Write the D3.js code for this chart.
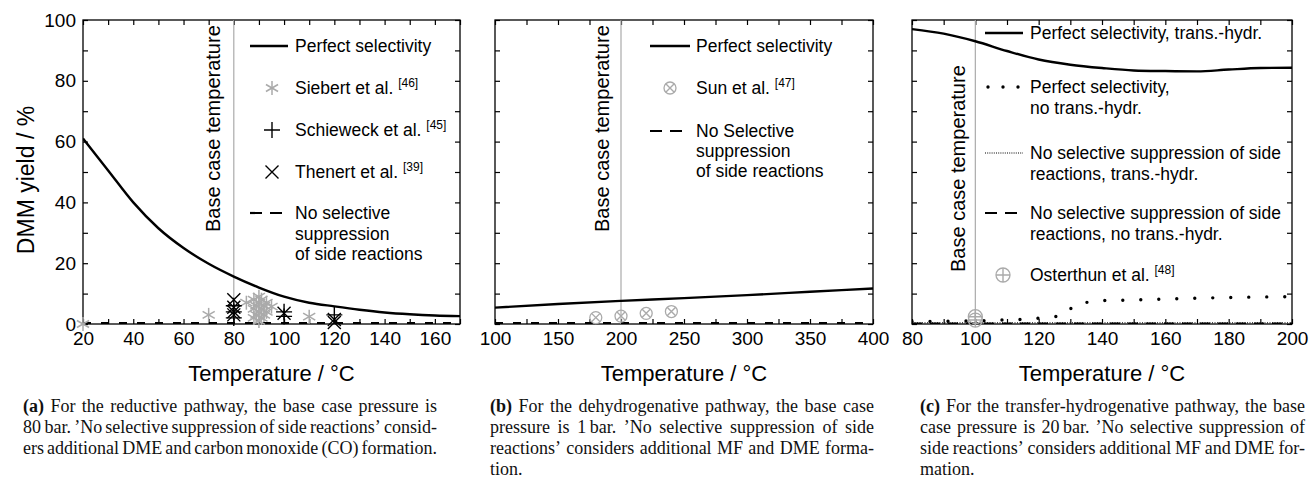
<!DOCTYPE html>
<html><head><meta charset="utf-8">
<script src="https://cdn.jsdelivr.net/npm/d3@7"></script>
<style>body{margin:0;background:#fff}svg{display:block}</style>
</head><body>
<svg id="chart" width="1311" height="488"></svg>
<script>
// ---------- DATA ----------
// Panel (a): reductive pathway
const aPerfectT = [20,30,40,50,60,70,80,90,100,110,120,130,140,150,160,170];
const aPerfectY = [61,50.5,40,31.5,25,19.8,15.6,12,9,7,5.8,4.7,3.8,3.2,2.8,2.6];
const aNoSelT = [20,170];
const aNoSelY = [0.3,0.3];
const siebertT = [20,70,85,88,88,88,89,89,90,90,90,90,91,91,91,92,92,93,93,95,110];
const siebertY = [0,3,7,2,5,8,3,6,1,4,7,9,2,5,8,3,6,4,7,5.7,2.4];
const schieweckT = [80,80,80,100,100,120];
const schieweckY = [2,4,6,2.5,4,3];
const thenertT = [80,80,80,80,100,120,120];
const thenertY = [8,5.5,4,3,3.5,0.5,1.5];
// Panel (b): dehydrogenative pathway
const bPerfectT = [100,150,200,250,300,350,400];
const bPerfectY = [5.4,6.6,7.6,8.5,9.5,10.6,11.7];
const bNoSelT = [100,400];
const bNoSelY = [0.3,0.3];
const sunT = [180,200,220,240];
const sunY = [2.1,2.6,3.5,4.1];
// Panel (c): transfer-hydrogenative pathway
const cPerfTransT = [80,90,100,110,120,130,140,150,160,170,180,190,200];
const cPerfTransY = [97,95.5,93,89.8,87,85.3,84.2,83.4,83.2,83.1,83.7,84.2,84.3];
const cPerfNoTransT = [80,90,100,104,108,115,121,127,129,131,137,140,150,160,170,180,190,200];
const cPerfNoTransY = [0.8,0.9,1.0,1.1,1.3,1.5,2.0,2.6,3.5,6.2,7.5,7.7,7.9,8.2,8.5,8.7,8.9,9.0];
const cNoSelTransT = [80,200];
const cNoSelTransY = [0.4,0.4];
const cNoSelNoTransT = [80,200];
const cNoSelNoTransY = [0.2,0.2];
const osterthunT = [100,100];
const osterthunY = [2.4,1.3];
// Axis / ticks
const yTicks = [0,10,20,30,40,50,60,70,80,90,100];
const yTickLabels = [0,20,40,60,80,100];
const aXTicks = [20,30,40,50,60,70,80,90,100,110,120,130,140,150,160,170];
const aXTickLabels = [20,40,60,80,100,120,140,160];
const bXTicks = [100,125,150,175,200,225,250,275,300,325,350,375,400];
const bXTickLabels = [100,150,200,250,300,350,400];
const cXTicks = [80,90,100,110,120,130,140,150,160,170,180,190,200];
const cXTickLabels = [80,100,120,140,160,180,200];
const baseCaseT = [80,200,100];
const xTitle = "Temperature / °C";
const yTitle = "DMM yield / %";
const baseCaseLabel = "Base case temperature";
// Legend labels
const legendA = ["Perfect selectivity","Siebert et al.","Schieweck et al.","Thenert et al.","No selective|suppression|of side reactions"];
const legendASup = ["","[46]","[45]","[39]",""];
const legendB = ["Perfect selectivity","Sun et al.","No Selective|suppression|of side reactions"];
const legendBSup = ["","[47]",""];
const legendC = ["Perfect selectivity, trans.-hydr.","Perfect selectivity,|no trans.-hydr.","No selective suppression of side|reactions, trans.-hydr.","No selective suppression of side|reactions, no trans.-hydr.","Osterthun et al."];
const legendCSup = ["","","","","[48]"];
// Captions
const captionA = ["(a) For the reductive pathway, the base case pressure is","80\u2009bar. ’No selective suppression of side reactions’ consid-","ers additional DME and carbon monoxide (CO) formation."];
const captionB = ["(b) For the dehydrogenative pathway, the base case","pressure is 1\u2009bar. ’No selective suppression of side","reactions’ considers additional MF and DME forma-","tion."];
const captionC = ["(c) For the transfer-hydrogenative pathway, the base","case pressure is 20\u2009bar. ’No selective suppression of","side reactions’ considers additional MF and DME for-","mation."];

// ---------- DRAW ----------
const FONT = "'Liberation Sans', Arial, sans-serif";
const SERIF = "'Liberation Serif', 'Times New Roman', serif";
const GRAY = "#aaaaaa";
const svg = d3.select("#chart");
const yTop = 20, yBottom = 324;
const y = d3.scaleLinear([0,100],[yBottom,yTop]);

const panels = [
  {x: d3.scaleLinear([20,170],[83,460]), xt: aXTicks, xl: aXTickLabels, ylab: true, base: baseCaseT[0], baseOff: 14, baseBottom: 232},
  {x: d3.scaleLinear([100,400],[495,873]), xt: bXTicks, xl: bXTickLabels, ylab: false, base: baseCaseT[1], baseOff: 12, baseBottom: 232},
  {x: d3.scaleLinear([80,200],[912,1292]), xt: cXTicks, xl: cXTickLabels, ylab: false, base: baseCaseT[2], baseOff: 10, baseBottom: 272}
];

function zip(a,b){return a.map((v,i)=>[v,b[i]]);}

panels.forEach((p,i)=>{
  const x = p.x;
  const g = svg.append("g");
  p.g = g;
  const [x0,x1] = x.range();
  const fmt = lab => d => lab.includes(d) ? String(d) : "";
  const ab = g.append("g").attr("transform",`translate(0,${yBottom})`)
    .call(d3.axisBottom(x).tickValues(p.xt).tickSize(-5).tickPadding(8).tickFormat(fmt(p.xl)));
  const at = g.append("g").attr("transform",`translate(0,${yTop})`)
    .call(d3.axisTop(x).tickValues(p.xt).tickSize(-5).tickFormat(""));
  const al = g.append("g").attr("transform",`translate(${x0},0)`)
    .call(d3.axisLeft(y).tickValues(yTicks).tickSize(-5).tickPadding(7).tickFormat(p.ylab ? fmt(yTickLabels) : ""));
  const ar = g.append("g").attr("transform",`translate(${x1},0)`)
    .call(d3.axisRight(y).tickValues(yTicks).tickSize(-5).tickFormat(""));
  [ab,at,al,ar].forEach(a=>{
    a.select(".domain").remove();
    a.selectAll("line").attr("stroke","#000").attr("stroke-width",1.2);
    a.selectAll("text").attr("font-family",FONT).attr("font-size",19).attr("fill","#000");
  });
  g.append("rect").attr("x",x0).attr("y",yTop).attr("width",x1-x0).attr("height",yBottom-yTop)
    .attr("fill","none").attr("stroke","#000").attr("stroke-width",1.3);
  g.append("text").attr("x",(x0+x1)/2).attr("y",381).attr("text-anchor","middle")
    .attr("font-family",FONT).attr("font-size",22).text(xTitle);
  svg.append("clipPath").attr("id","clip"+i).append("rect")
    .attr("x",x0).attr("y",yTop).attr("width",x1-x0).attr("height",yBottom-yTop);
  g.append("line").attr("x1",x(p.base)).attr("x2",x(p.base)).attr("y1",yTop).attr("y2",yBottom)
    .attr("stroke",GRAY).attr("stroke-width",1.2);
  const bx = x(p.base)-p.baseOff;
  g.append("text").attr("transform",`translate(${bx},${p.baseBottom}) rotate(-90)`)
    .attr("font-family",FONT).attr("font-size",20).text(baseCaseLabel);
  p.plot = g.append("g").attr("clip-path",`url(#clip${i})`);
});

svg.append("text").attr("transform","translate(34,180) rotate(-90)").attr("text-anchor","middle")
  .attr("font-family",FONT).attr("font-size",23).text(yTitle);

function asterisk(g,cx,cy,r,col){
  [90,30,150].forEach(a=>{
    const rad=a*Math.PI/180, dx=r*Math.cos(rad), dy=r*Math.sin(rad);
    g.append("line").attr("x1",cx-dx).attr("y1",cy-dy).attr("x2",cx+dx).attr("y2",cy+dy)
      .attr("stroke",col).attr("stroke-width",1.5);
  });
}
function plus(g,cx,cy,r,col){
  g.append("path").attr("d",`M${cx-r},${cy}H${cx+r}M${cx},${cy-r}V${cy+r}`).attr("stroke",col).attr("stroke-width",1.4).attr("fill","none");
}
function cross(g,cx,cy,r,col){
  g.append("path").attr("d",`M${cx-r},${cy-r}L${cx+r},${cy+r}M${cx-r},${cy+r}L${cx+r},${cy-r}`).attr("stroke",col).attr("stroke-width",1.4).attr("fill","none");
}
function otimes(g,cx,cy,r,col){
  g.append("circle").attr("cx",cx).attr("cy",cy).attr("r",r).attr("fill","none").attr("stroke",col).attr("stroke-width",1.3);
  cross(g,cx,cy,r*0.707,col);
}
function oplus(g,cx,cy,r,col){
  g.append("circle").attr("cx",cx).attr("cy",cy).attr("r",r).attr("fill","none").attr("stroke",col).attr("stroke-width",1.3);
  plus(g,cx,cy,r,col);
}

// ---- Panel (a)
{
  const p = panels[0], x = p.x, g = p.plot;
  g.append("path").datum(zip(aPerfectT,aPerfectY)).attr("fill","none").attr("stroke","#000").attr("stroke-width",2.4)
    .attr("d",d3.line().x(d=>x(d[0])).y(d=>y(d[1])).curve(d3.curveMonotoneX));
  g.append("path").datum(zip(aNoSelT,aNoSelY)).attr("fill","none").attr("stroke","#000").attr("stroke-width",2)
    .attr("stroke-dasharray","8,10").attr("d",d3.line().x(d=>x(d[0])).y(d=>y(d[1])));
  const mg = p.g.append("g");
  zip(siebertT,siebertY).forEach(d=>asterisk(mg,x(d[0]),y(d[1]),7,GRAY));
  zip(schieweckT,schieweckY).forEach(d=>plus(mg,x(d[0]),y(d[1]),8,"#000"));
  zip(thenertT,thenertY).forEach(d=>cross(mg,x(d[0]),y(d[1]),6.5,"#000"));
}
// ---- Panel (b)
{
  const p = panels[1], x = p.x, g = p.plot;
  g.append("path").datum(zip(bPerfectT,bPerfectY)).attr("fill","none").attr("stroke","#000").attr("stroke-width",2.4)
    .attr("d",d3.line().x(d=>x(d[0])).y(d=>y(d[1])).curve(d3.curveMonotoneX));
  g.append("path").datum(zip(bNoSelT,bNoSelY)).attr("fill","none").attr("stroke","#000").attr("stroke-width",2)
    .attr("stroke-dasharray","8,10").attr("d",d3.line().x(d=>x(d[0])).y(d=>y(d[1])));
  const mg = p.g.append("g");
  zip(sunT,sunY).forEach(d=>otimes(mg,x(d[0]),y(d[1]),6,GRAY));
}
// ---- Panel (c)
{
  const p = panels[2], x = p.x, g = p.plot;
  const ln = d3.line().x(d=>x(d[0])).y(d=>y(d[1]));
  g.append("path").datum(zip(cPerfTransT,cPerfTransY)).attr("fill","none").attr("stroke","#000").attr("stroke-width",2.4)
    .attr("d",d3.line().x(d=>x(d[0])).y(d=>y(d[1])).curve(d3.curveMonotoneX));
  g.append("path").datum(zip(cNoSelTransT,cNoSelTransY)).attr("fill","none").attr("stroke","#000").attr("stroke-width",1)
    .attr("stroke-dasharray","1,1.5").attr("d",ln);
  g.append("path").datum(zip(cNoSelNoTransT,cNoSelNoTransY)).attr("fill","none").attr("stroke","#000").attr("stroke-width",2)
    .attr("stroke-dasharray","10,8").attr("d",ln);
  g.append("path").datum(zip(cPerfNoTransT,cPerfNoTransY)).attr("fill","none").attr("stroke","#000").attr("stroke-width",3.4)
    .attr("stroke-linecap","round").attr("stroke-dasharray","0,18").attr("d",ln);
  const mg = p.g.append("g");
  zip(osterthunT,osterthunY).forEach(d=>oplus(mg,x(d[0]),y(d[1]),7,GRAY));
}

// ---------- LEGENDS ----------
function legendText(g,tx,ty,label,sup,lh){
  label.split("|").forEach((s,k)=>{
    const t = g.append("text").attr("x",tx).attr("y",ty+k*lh).attr("dy","0.35em")
      .attr("font-family",FONT).attr("font-size",17.5).text(s);
    if(k===0 && sup){
      t.append("tspan").text(" ");
      t.append("tspan").attr("font-size",12).attr("dy",-7).text(sup);
    }
  });
}
function sampleLine(g,x0,x1,yy,style){
  const l = g.append("line").attr("x1",x0).attr("x2",x1).attr("y1",yy).attr("y2",yy).attr("stroke","#000");
  if(style==="solid") l.attr("stroke-width",2.4);
  if(style==="dash") l.attr("stroke-width",2.2).attr("stroke-dasharray","12,8");
  if(style==="dots") l.attr("stroke-width",3.4).attr("stroke-linecap","round").attr("stroke-dasharray","0,15");
  if(style==="fine") l.attr("stroke-width",1).attr("stroke-dasharray","1,1.2");
}
{
  const g = svg.append("g");
  const ys = [46,88,130,172,213];
  sampleLine(g,250,288,ys[0],"solid");
  asterisk(g,272,ys[1],7,GRAY);
  plus(g,272,ys[2],8,"#000");
  cross(g,272,ys[3],6.5,"#000");
  sampleLine(g,250,288,ys[4],"dash");
  legendA.forEach((l,i)=>legendText(g,295,ys[i],l,legendASup[i],20.5));
}
{
  const g = svg.append("g");
  const ys = [46,88,131];
  sampleLine(g,650,690,ys[0],"solid");
  otimes(g,670,ys[1],6,GRAY);
  sampleLine(g,650,690,ys[2],"dash");
  legendB.forEach((l,i)=>legendText(g,696,ys[i],l,legendBSup[i],20));
}
{
  const g = svg.append("g");
  const ys = [33,87,153,213,275];
  sampleLine(g,985,1023,ys[0],"solid");
  sampleLine(g,988,1026,ys[1],"dots");
  sampleLine(g,985,1023,ys[2],"fine");
  sampleLine(g,985,1023,ys[3],"dash");
  oplus(g,1003,ys[4],7,GRAY);
  legendC.forEach((l,i)=>legendText(g,1030,ys[i],l,legendCSup[i],21));
}

// ---------- CAPTIONS ----------
function caption(lines,x0,x1,y0,lh,fullLast){
  const g = svg.append("g").attr("font-family",SERIF).attr("font-size",18).attr("fill","#111");
  lines.forEach((line,li)=>{
    const words = line.split(" ");
    const yy = y0+li*lh;
    const els = words.map((w,wi)=>{
      const t = g.append("text").attr("y",yy).text(w);
      if(li===0 && wi===0) t.attr("font-weight","bold");
      return t;
    });
    const widths = els.map(e=>e.node().getComputedTextLength());
    const total = d3.sum(widths);
    const justify = li < lines.length-1 || fullLast;
    const gap = justify && words.length>1 ? (x1-x0-total)/(words.length-1) : 4.5;
    let cx = x0;
    els.forEach((e,k)=>{ e.attr("x",cx); cx += widths[k]+gap; });
  });
}
caption(captionA,23,437,412,21,true);
caption(captionB,490,874,412,21,false);
caption(captionC,920,1305,412,21,false);
</script>
</body></html>
